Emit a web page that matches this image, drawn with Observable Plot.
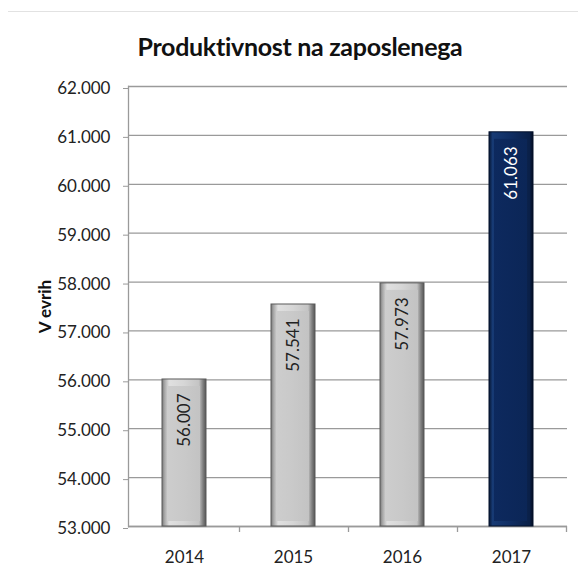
<!DOCTYPE html>
<html>
<head>
<meta charset="utf-8">
<script src="https://cdn.jsdelivr.net/npm/d3@7"></script>
<script src="https://cdn.jsdelivr.net/npm/@observablehq/plot@0.6"></script>
<style>
  body { margin: 0; background: #fff; }
  #wrap { position: relative; width: 578px; height: 574px; overflow: hidden; font-family: Lato, "Open Sans", sans-serif; }
  #sep { position: absolute; left: 8px; top: 11px; width: 570px; height: 0; border-top: 1px solid #e2e2e2; }
  #title { position: absolute; left: 0; top: 31px; width: 600px; text-align: center; font-size: 25px; letter-spacing: -0.3px; font-weight: bold; line-height: 30px; color: #111; white-space: nowrap; }
  #chart { position: absolute; left: 0; top: 60px; }
</style>
</head>
<body>
<div id="wrap">
  <div id="sep"></div>
  <div id="title">Produktivnost na zaposlenega</div>
  <div id="chart"></div>
</div>
<script>
const years = ["2014", "2015", "2016", "2017"];
const values = [56007, 57541, 57973, 61063];
const highlight = ["2017"];
const yTicks = [53000, 54000, 55000, 56000, 57000, 58000, 59000, 60000, 61000, 62000];
const yLabel = "V evrih";

const data = years.map((y, i) => ({year: y, value: values[i]}));
const grayData = data.filter(d => !highlight.includes(d.year));
const navyData = data.filter(d => highlight.includes(d.year));

const loc = d3.formatLocale({decimal: ",", thousands: ".", grouping: [3], currency: ["", " €"]});
const fmt = loc.format(",.0f");

const defs = () => {
  const g = d3.create("svg:defs");
  const mk = (id, stops) => {
    const lg = g.append("linearGradient").attr("id", id).attr("x1", 0).attr("x2", 1).attr("y1", 0).attr("y2", 0);
    stops.forEach(([o, c]) => lg.append("stop").attr("offset", o).attr("stop-color", c));
  };
  mk("grayOuter", [[0, "#7a7a7a"], [0.06, "#a8a8a8"], [0.16, "#e0e0e0"], [0.5, "#d6d6d6"], [0.84, "#c4c4c4"], [0.93, "#808080"], [1, "#555555"]]);
  mk("grayInner", [[0, "#cdcdcd"], [0.5, "#c9c9c9"], [1, "#c3c3c3"]]);
  mk("navyOuter", [[0, "#061633"], [0.08, "#173a74"], [0.5, "#0f2d62"], [0.92, "#0a2048"], [1, "#030c20"]]);
  mk("navyInner", [[0, "#0d295e"], [1, "#0b2657"]]);
  return g.node();
};

const plot = Plot.plot({
  width: 578,
  height: 514,
  marginTop: 26,
  marginBottom: 48,
  marginLeft: 128,
  marginRight: 11,
  style: {fontFamily: "Lato, 'Open Sans', sans-serif", fontSize: "17px", color: "#222", background: "transparent"},
  x: {type: "band", domain: years, paddingInner: 0.6, paddingOuter: 0.3, align: 0.5, label: null},
  y: {domain: [53000, 62000], label: null},
  marks: [
    defs,
    Plot.gridY(yTicks, {stroke: "#9a9a9a", strokeOpacity: 1, strokeWidth: 1.3}),
    Plot.axisY(yTicks, {tickFormat: fmt, tickSize: 5, tickPadding: 13, dy: 2, stroke: "#9a9a9a", fill: "#222", fontSize: 17, label: null}),
    Plot.axisX({tickSize: 0, tickPadding: 24, fontSize: 17, fill: "#222", label: null}),
    Plot.frame({anchor: "left", stroke: "#9a9a9a", strokeWidth: 1.3}),
    Plot.ruleX(years, {x: d => d, dx: 55, y1: 53000, y2: 53000, insetBottom: -6, stroke: "#9a9a9a", strokeWidth: 1.3}),
    Plot.ruleY([53000], {stroke: "#9a9a9a", strokeWidth: 1.3}),
    Plot.barY(grayData, {x: "year", y1: 53000, y2: "value", fill: "url(#grayOuter)", stroke: "#5a5a5a", strokeWidth: 1}),
    Plot.barY(grayData, {x: "year", y1: 53000, y2: "value", fill: "url(#grayInner)", insetLeft: 5, insetRight: 6, insetTop: 7, insetBottom: 5}),
    Plot.barY(navyData, {x: "year", y1: 53000, y2: "value", fill: "url(#navyOuter)", stroke: "#03102a", strokeWidth: 1}),
    Plot.barY(navyData, {x: "year", y1: 53000, y2: "value", fill: "url(#navyInner)", insetLeft: 5, insetRight: 6, insetTop: 7, insetBottom: 5}),
    Plot.text(grayData, {x: "year", y: "value", text: d => fmt(d.value), rotate: -90, textAnchor: "end", dy: 14, fill: "#222", fontSize: 17}),
    Plot.text(navyData, {x: "year", y: "value", text: d => fmt(d.value), rotate: -90, textAnchor: "end", dy: 14, fill: "#ffffff", fontSize: 17}),
    Plot.text([yLabel], {frameAnchor: "left", rotate: -90, textAnchor: "middle", dx: -83, fontWeight: "bold", fontSize: 17, fill: "#111"})
  ]
});
document.getElementById("chart").appendChild(plot);
</script>
</body>
</html>
